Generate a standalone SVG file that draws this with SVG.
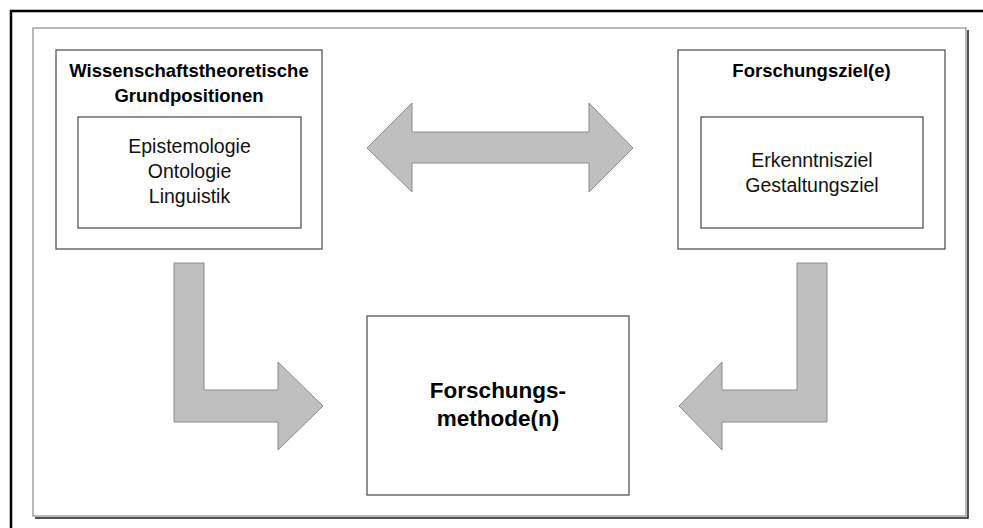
<svg xmlns="http://www.w3.org/2000/svg" width="983" height="528" viewBox="0 0 983 528">
  <style>
    .box { fill: #ffffff; stroke: #555555; stroke-width: 1.3; }
    .arrow { fill: #bfbfbf; stroke: #8c8c8c; stroke-width: 1; stroke-linejoin: miter; }
    .title { font-family: "Liberation Sans", Arial, sans-serif; font-weight: bold; font-size: 18.5px; fill: #000; text-anchor: middle; }
    .body { font-family: "Liberation Sans", Arial, sans-serif; font-size: 19.5px; fill: #111; text-anchor: middle; }
    .main { font-family: "Liberation Sans", Arial, sans-serif; font-weight: bold; font-size: 22.5px; fill: #000; text-anchor: middle; }
  </style>

  <rect width="983" height="528" fill="#ffffff"/>

  <!-- outer frame (black, open to the right and bottom) -->
  <path d="M11,528 V11 H983" fill="none" stroke="#000" stroke-width="2.5"/>

  <!-- inner frame with shadow on right and bottom -->
  <g id="frame">
    <path d="M968,30 V518 H35" fill="none" stroke="#1a1a1a" stroke-width="1.5"/>
    <rect x="33" y="28" width="933" height="488" fill="#ffffff" stroke="#8a8a8a" stroke-width="1.2"/>
  </g>

  <!-- connectors -->
  <g id="connectors">
    <polygon class="arrow" points="367,148 412,103 412,132 589,132 589,103 633,148 589,192 589,163 412,163 412,192"/>
    <polygon class="arrow" points="174,263 204,263 204,390 278,390 278,362 323,406 278,450 278,422 174,422"/>
    <polygon class="arrow" points="827,263 797,263 797,390 722,390 722,362 679,406 722,450 722,422 827,422"/>
  </g>

  <!-- left node -->
  <g id="grundpositionen">
    <rect class="box" x="56" y="50" width="266" height="199"/>
    <text class="title" x="189" y="77">Wissenschaftstheoretische</text>
    <text class="title" x="189" y="102">Grundpositionen</text>
    <rect class="box" x="78" y="117" width="223" height="111"/>
    <text class="body" x="189.5" y="153">Epistemologie</text>
    <text class="body" x="189.5" y="178">Ontologie</text>
    <text class="body" x="189.5" y="203">Linguistik</text>
  </g>

  <!-- right node -->
  <g id="forschungsziele">
    <rect class="box" x="678" y="50" width="267" height="199"/>
    <text class="title" x="811.5" y="77">Forschungsziel(e)</text>
    <rect class="box" x="701" y="117" width="222" height="111"/>
    <text class="body" x="812" y="167">Erkenntnisziel</text>
    <text class="body" x="812" y="192">Gestaltungsziel</text>
  </g>

  <!-- center node -->
  <g id="forschungsmethoden">
    <rect class="box" x="367" y="316" width="262" height="179"/>
    <text class="main" x="498" y="398">Forschungs-</text>
    <text class="main" x="498" y="426">methode(n)</text>
  </g>
</svg>
